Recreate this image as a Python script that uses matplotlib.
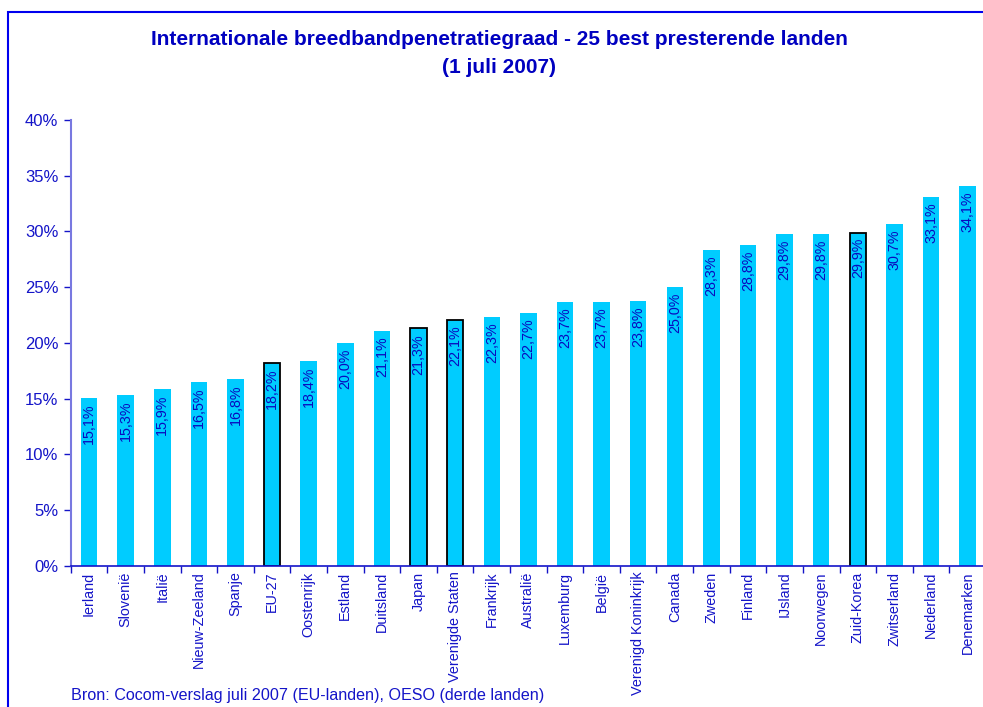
import numpy as np
import matplotlib.pyplot as plt
from matplotlib.patches import Rectangle

plt.rcParams['font.family'] = ['Liberation Sans', 'DejaVu Sans']

landen = ['Ierland', 'Slovenië', 'Italië', 'Nieuw-Zeeland', 'Spanje', 'EU-27',
          'Oostenrijk', 'Estland', 'Duitsland', 'Japan', 'Verenigde Staten',
          'Frankrijk', 'Australië', 'Luxemburg', 'België', 'Verenigd Koninkrijk',
          'Canada', 'Zweden', 'Finland', 'IJsland', 'Noorwegen', 'Zuid-Korea',
          'Zwitserland', 'Nederland', 'Denemarken']
penetratie = [15.1, 15.3, 15.9, 16.5, 16.8, 18.2, 18.4, 20.0, 21.1, 21.3, 22.1,
              22.3, 22.7, 23.7, 23.7, 23.8, 25.0, 28.3, 28.8, 29.8, 29.8, 29.9,
              30.7, 33.1, 34.1]
omlijnd = ['EU-27', 'Japan', 'Verenigde Staten', 'Zuid-Korea']

blauw = '#1414C8'
cyaan = '#00CCFF'

fig = plt.figure(figsize=(9.83, 7.07), dpi=100)
ax = fig.add_axes([0.072, 0.1994, 0.931, 0.631])

x = np.arange(len(landen))
bars = ax.bar(x, penetratie, width=0.45, color=cyaan, zorder=2)
for b, land in zip(bars, landen):
    if land in omlijnd:
        b.set_edgecolor('black')
        b.set_linewidth(1.3)

for xi, v in zip(x, penetratie):
    ax.annotate(f'{v:.1f}%'.replace('.', ','), (xi, v), xytext=(0, -4),
                textcoords='offset points', rotation=90, ha='center', va='top',
                fontsize=10.3, color='#0A0ABE', zorder=3)

ax.set_xlim(-0.5, len(landen) - 0.5)
ax.set_ylim(0, 40)
ax.set_yticks(np.arange(0, 41, 5))
ax.set_yticklabels([f'{t}%' for t in range(0, 41, 5)], fontsize=12, color=blauw)
ax.set_xticks(x)
ax.set_xticklabels(landen, rotation=90, fontsize=10.4, color=blauw)
ax.set_xticks(np.arange(-0.5, len(landen)), minor=True)
ax.tick_params(axis='x', which='major', length=0, pad=4)
ax.tick_params(axis='x', which='minor', length=5, color=blauw, width=1)
ax.tick_params(axis='y', length=5, color=blauw, width=1, pad=4)

for s in ['top', 'right']:
    ax.spines[s].set_visible(False)
ax.spines['left'].set_color('#7878E0')
ax.spines['left'].set_linewidth(1.5)
ax.spines['bottom'].set_color(blauw)
ax.spines['bottom'].set_linewidth(1.2)

fig.text(0.508, 0.944, 'Internationale breedbandpenetratiegraad - 25 best presterende landen',
         ha='center', va='center', fontsize=15, fontweight='bold', color='#0000C0')
fig.text(0.508, 0.904, '(1 juli 2007)', ha='center', va='center',
         fontsize=15, fontweight='bold', color='#0000C0')
fig.text(0.072, 0.01, 'Bron: Cocom-verslag juli 2007 (EU-landen), OESO (derde landen)',
         ha='left', va='baseline', fontsize=11.6, color=blauw)

# blauwe omlijsting
fig.patches.append(Rectangle((0.0085, -0.1), 1.5, 1.1 - 0.017, transform=fig.transFigure,
                             fill=False, edgecolor='#0000EE', linewidth=1.5))

fig.savefig('out.png', dpi=100)
